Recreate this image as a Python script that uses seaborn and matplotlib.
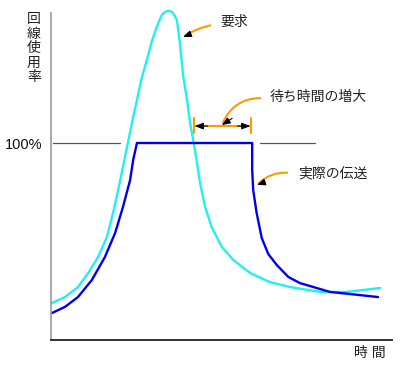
import matplotlib
matplotlib.use("Agg")
import matplotlib.pyplot as plt
import seaborn as sns
import pandas as pd

# 要求 (request) curve: time vs. line utilisation (%)
req_t = [0.3, 4.1, 7.9, 10.9, 13.8, 16.4, 18.2, 19.7, 21.1, 22.3, 24.1, 25.2,
         26.6, 28.1, 29.5, 31.0, 32.5, 33.4, 34.4, 35.2, 35.9, 36.9, 37.3, 37.8,
         38.3, 38.8, 39.9, 40.8, 41.7, 42.7, 43.7, 45.2, 47.1, 50.1, 53.5, 58.4,
         64.2, 70.1, 78.9, 86.8, 96.5]
req_u = [18.8, 21.8, 26.9, 34.0, 42.1, 52.3, 64.5, 76.1, 87.8, 98.0, 113.2, 121.8,
         133.0, 142.1, 151.3, 158.9, 165.0, 166.5, 167.2, 166.8, 165.8, 162.4, 157.4, 150.8,
         142.1, 133.5, 121.8, 110.2, 101.5, 91.4, 79.7, 67.5, 57.4, 47.2, 40.6, 34.0,
         29.4, 26.9, 24.4, 24.4, 26.4]

# 実際の伝送 (actual transmission) curve
act_t = [0.3, 4.1, 7.9, 12.0, 15.8, 18.8, 21.1, 23.2, 24.1, 25.2, 59.0, 59.0,
         59.3, 60.3, 61.8, 63.7, 66.2, 69.6, 73.0, 77.9, 81.8, 90.6, 95.9]
act_u = [13.7, 16.8, 21.8, 30.5, 42.1, 54.3, 67.5, 81.2, 91.4, 100.0, 100.0, 86.3,
         76.1, 64.5, 51.8, 43.7, 38.1, 32.0, 28.9, 26.4, 24.4, 22.8, 21.8]

# 100% reference line pieces
ref_t1 = [0.6, 20.2]
ref_t2 = [61.3, 77.4]
ref_u = [100, 100]

# waiting time increase span
wait_t = [41.9, 58.7]

sns.set_style("white")
plt.rcParams['font.family'] = ['Liberation Sans', 'Noto Sans CJK JP', 'DejaVu Sans']

fig = plt.figure(figsize=(4, 3.65), dpi=100)
ax = fig.add_axes([51 / 400, 25 / 365, 341 / 400, 327 / 365])

req = pd.DataFrame({'t': req_t, 'u': req_u})
act = pd.DataFrame({'t': act_t, 'u': act_u})

ax.plot(ref_t1, ref_u, color='#555555', lw=0.9)
ax.plot(ref_t2, ref_u, color='#555555', lw=0.9)
sns.lineplot(data=req, x='t', y='u', sort=False, estimator=None, ax=ax,
             color='#22F0F0', lw=1.7, clip_on=False)
sns.lineplot(data=act, x='t', y='u', sort=False, estimator=None, ax=ax,
             color='#0000F0', lw=1.7, clip_on=False)

ax.set_xlim(0, 100)
ax.set_ylim(0, 166)
ax.set_xlabel('')
ax.set_ylabel('')
ax.set_xticks([])
ax.set_yticks([100])
ax.set_yticklabels(['100%'], fontsize=10.5, color='#111111')
ax.tick_params(axis='y', length=0, pad=6)
for s in ['top', 'right']:
    ax.spines[s].set_visible(False)
ax.spines['left'].set_color('#999999')
ax.spines['left'].set_linewidth(1.2)
ax.spines['bottom'].set_color('#333333')
ax.spines['bottom'].set_linewidth(1.4)

orange = '#FF9900'
fs = 10
tc = '#222222'

# axis titles
ax.text(-5.0, 166.5, '\n'.join('回線使用率'), ha='center', va='top', fontsize=fs,
        color=tc, linespacing=1.05, clip_on=False)
ax.text(93.5, -6.5, '時 間', ha='center', va='center', fontsize=fs, color=tc,
        clip_on=False)


def callout(text, tail, tip, txt_xy, rad):
    ax.annotate('', xy=tip, xytext=tail,
                arrowprops=dict(arrowstyle='-', color=orange, lw=1.5,
                                connectionstyle=f'arc3,rad={rad}'))
    ax.annotate('', xy=tip, xytext=(tip[0] + (tail[0] - tip[0]) * 0.25,
                                    tip[1] + (tail[1] - tip[1]) * 0.25),
                arrowprops=dict(arrowstyle='-|>,head_length=0.5,head_width=0.2',
                                color='black', lw=0.8, shrinkA=0, shrinkB=0))
    ax.text(txt_xy[0], txt_xy[1], text, ha='left', va='center', fontsize=fs, color=tc)


callout('要求', (47.5, 160.0), (38.7, 153.8), (49.6, 161.4), 0.1)
callout('待ち時間の増大', (62.2, 122.8), (50.1, 109.1), (64.2, 123.4), 0.35)
callout('実際の伝送', (70.1, 84.8), (60.4, 78.7), (72.4, 84.8), 0.25)

# waiting time span
ax.plot(wait_t, [108.6, 108.6], color=orange, lw=1.5)
for x in wait_t:
    ax.plot([x, x], [105.1, 112.7], color=orange, lw=1.5)
ax.annotate('', xy=(wait_t[0] + 0.3, 108.6), xytext=(wait_t[0] + 4, 108.6),
            arrowprops=dict(arrowstyle='-|>,head_length=0.5,head_width=0.2',
                            color='black', lw=0.8, shrinkA=0, shrinkB=0))
ax.annotate('', xy=(wait_t[1] - 0.3, 108.6), xytext=(wait_t[1] - 4, 108.6),
            arrowprops=dict(arrowstyle='-|>,head_length=0.5,head_width=0.2',
                            color='black', lw=0.8, shrinkA=0, shrinkB=0))

fig.savefig('out.png', dpi=100)
